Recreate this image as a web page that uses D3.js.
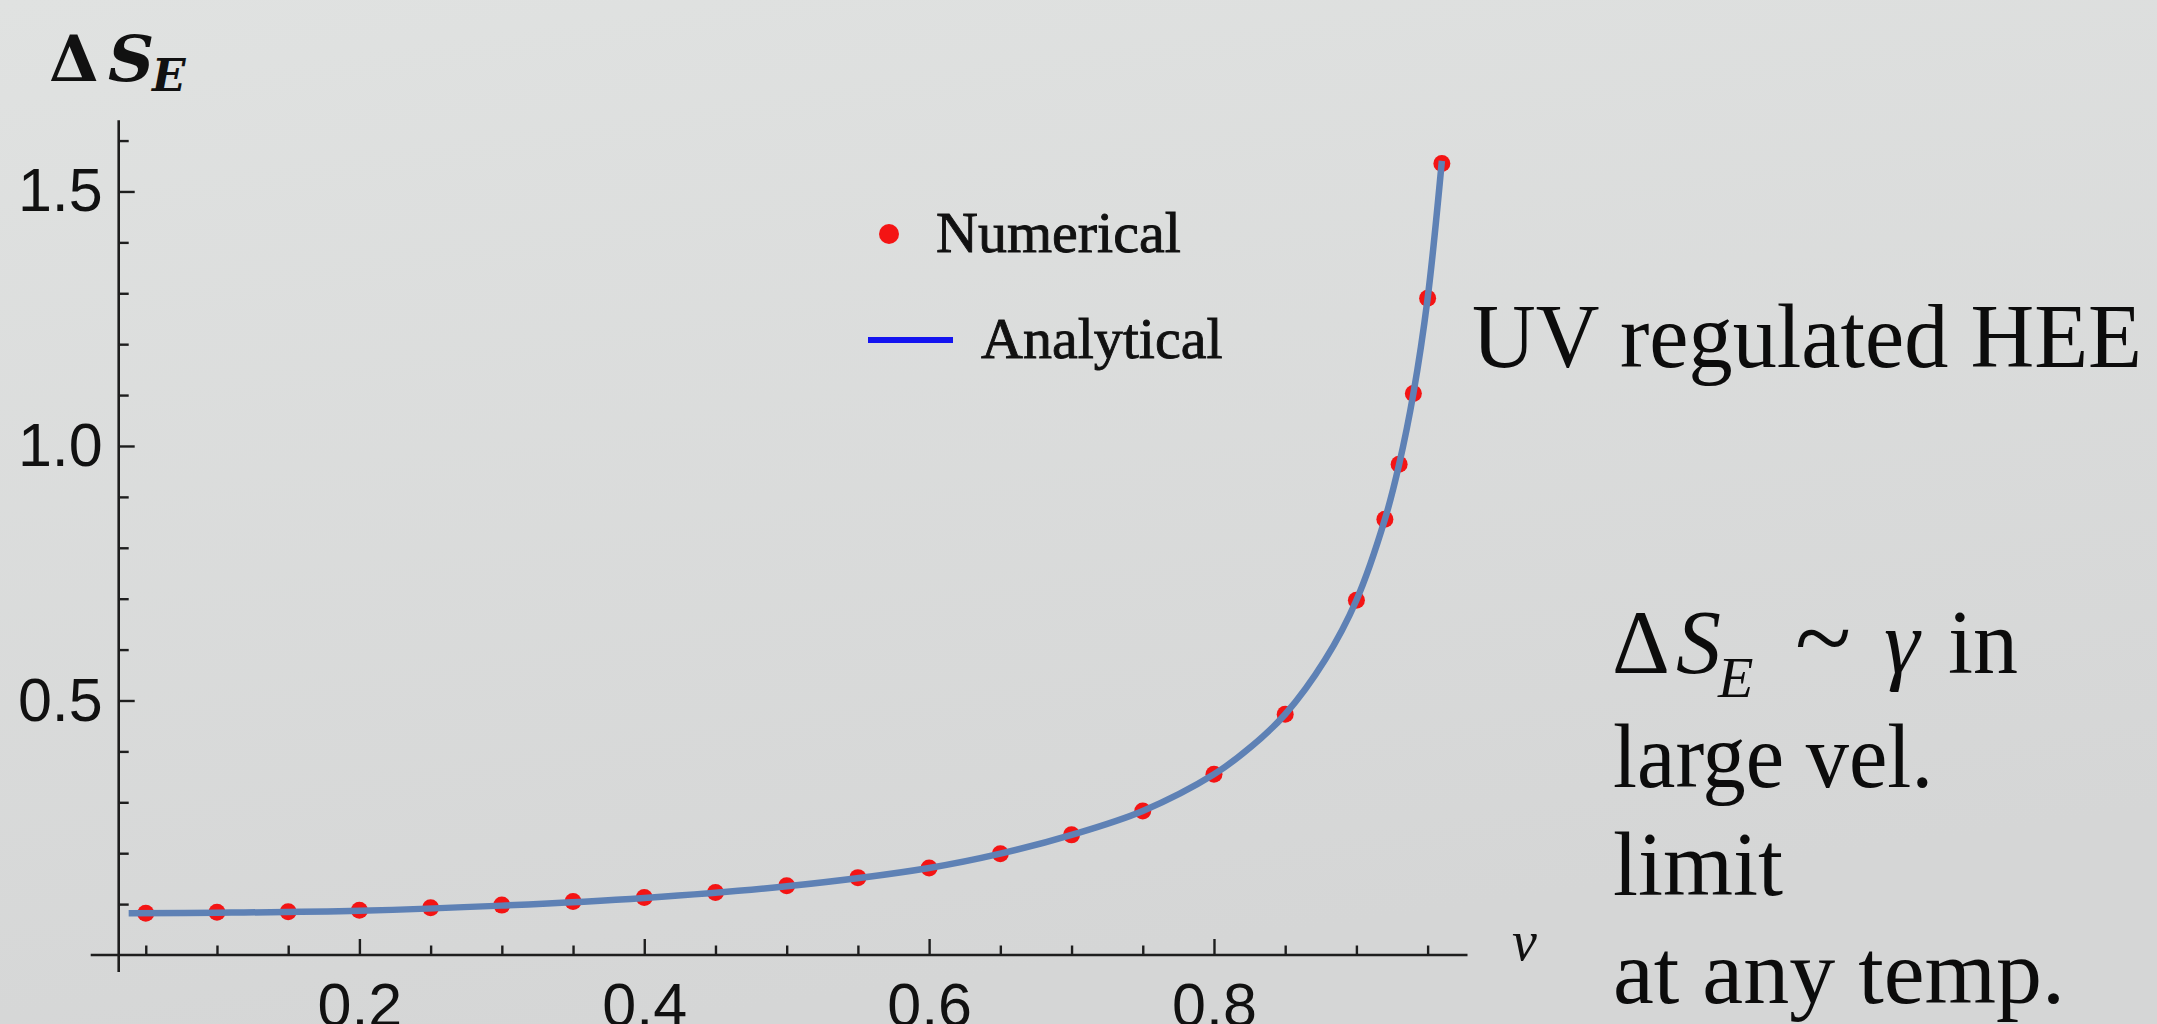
<!DOCTYPE html>
<html>
<head>
<meta charset="utf-8">
<script src="https://d3js.org/d3.v7.min.js"></script>
<style>
  html, body { margin: 0; padding: 0; background: #dcdede; }
  svg { display: block; }
</style>
</head>
<body>
<svg id="chart" width="2157" height="1024"></svg>
<script>
// numerical points (v, ΔS_E)
const numV = [0.05, 0.10, 0.15, 0.20, 0.25, 0.30, 0.35, 0.40, 0.45, 0.50, 0.55, 0.60,
	0.65, 0.70, 0.75, 0.80, 0.85, 0.90, 0.92, 0.93, 0.94, 0.95, 0.96];
const numS = [0.082, 0.084, 0.085, 0.088, 0.093, 0.098, 0.105, 0.113, 0.123, 0.136, 0.152, 0.171,
	0.199, 0.236, 0.283, 0.355, 0.473, 0.697, 0.856, 0.964, 1.103, 1.290, 1.555];

// analytical curve
const anaV = [0.038, 0.10, 0.20, 0.30, 0.40, 0.50, 0.60, 0.65, 0.70, 0.75, 0.80, 0.826,
	0.85, 0.878, 0.90, 0.92, 0.93, 0.94, 0.95, 0.96];
const anaS = [0.082, 0.083, 0.087, 0.097, 0.112, 0.135, 0.171, 0.199, 0.236, 0.283, 0.355, 0.409,
	0.473, 0.580, 0.697, 0.856, 0.964, 1.103, 1.290, 1.560];

const xMajor = [0.2, 0.4, 0.6, 0.8];
const xMinor = [0.05, 0.1, 0.15, 0.25, 0.3, 0.35, 0.45, 0.5, 0.55, 0.65, 0.7, 0.75, 0.85, 0.9, 0.95];
const yMajor = [0.5, 1.0, 1.5];
const yMinor = [0.1, 0.2, 0.3, 0.4, 0.6, 0.7, 0.8, 0.9, 1.1, 1.2, 1.3, 1.4, 1.6];

const svg = d3.select("#chart");
const width = +svg.attr("width");
const height = +svg.attr("height");

// background
const defs = svg.append("defs");
const grad = defs.append("linearGradient")
	.attr("id", "bg")
	.attr("x1", 0).attr("y1", 0).attr("x2", 0.3).attr("y2", 1);
grad.append("stop").attr("offset", "0%").attr("stop-color", "#e0e2e1");
grad.append("stop").attr("offset", "100%").attr("stop-color", "#d5d6d6");
svg.append("rect")
	.attr("width", width)
	.attr("height", height)
	.attr("fill", "url(#bg)");

const x = d3.scaleLinear().domain([0.031, 0.978]).range([118.7, 1467.5]);
const y = d3.scaleLinear().domain([0, 1.64]).range([955, 120.2]);

const axisColor = "#1e1e1e";

// axis lines (Mathematica style, overhanging the origin a bit)
svg.append("line")
	.attr("x1", x(0.031)).attr("x2", x(0.031))
	.attr("y1", y(1.64)).attr("y2", y(0) + 17)
	.attr("stroke", axisColor).attr("stroke-width", 2.6);
svg.append("line")
	.attr("x1", x(0.031) - 28).attr("x2", x(0.978))
	.attr("y1", y(0)).attr("y2", y(0))
	.attr("stroke", axisColor).attr("stroke-width", 2.6);

function styleAxis(g) {
	g.select(".domain").remove();
	g.selectAll(".tick line").attr("stroke", axisColor).attr("stroke-width", 2.4);
	g.selectAll(".tick text")
		.attr("fill", "#111")
		.style("font-family", "'Liberation Sans', Arial, sans-serif")
		.style("font-size", "61px");
}

// x axis
svg.append("g")
	.attr("transform", "translate(0," + y(0) + ")")
	.call(d3.axisBottom(x).tickValues(xMajor).tickSize(-16).tickPadding(28)
		.tickFormat(d3.format(".1f")))
	.call(styleAxis);
svg.append("g")
	.attr("transform", "translate(0," + y(0) + ")")
	.call(d3.axisBottom(x).tickValues(xMinor).tickSize(-9.5).tickFormat(""))
	.call(styleAxis);

// y axis
svg.append("g")
	.attr("transform", "translate(" + x(0.031) + ",0)")
	.call(d3.axisLeft(y).tickValues(yMajor).tickSize(-16).tickPadding(16)
		.tickFormat(d3.format(".1f")))
	.call(styleAxis);
svg.append("g")
	.attr("transform", "translate(" + x(0.031) + ",0)")
	.call(d3.axisLeft(y).tickValues(yMinor).tickSize(-10).tickFormat(""))
	.call(styleAxis);

// analytical curve
const line = d3.line()
	.x((d, i) => x(anaV[i]))
	.y((d, i) => y(anaS[i]))
	.curve(d3.curveCatmullRom.alpha(0.5));

// numerical points
svg.append("g")
	.selectAll("circle")
	.data(numV)
	.enter().append("circle")
	.attr("cx", (d) => x(d))
	.attr("cy", (d, i) => y(numS[i]))
	.attr("r", 8.5)
	.attr("fill", "#f41414");

svg.append("path")
	.datum(anaV)
	.attr("d", line)
	.attr("fill", "none")
	.attr("stroke", "#5e81b5")
	.attr("stroke-width", 6.5);

// axis labels
const yLab = svg.append("text")
	.attr("y", 81)
	.attr("fill", "#111")
	.style("font-family", "'DejaVu Serif', serif")
	.style("font-weight", "bold")
	.style("font-size", "64px");
yLab.append("tspan").attr("x", 49).text("Δ");
yLab.append("tspan").attr("x", 108).style("font-style", "italic").text("S");
yLab.append("tspan").attr("x", 152).style("font-style", "italic").style("font-size", "44px")
	.attr("dy", 10).text("E");

svg.append("text")
	.attr("x", 1512)
	.attr("y", 960)
	.attr("fill", "#111")
	.style("font-family", "'Liberation Serif', serif")
	.style("font-style", "italic")
	.style("font-size", "56px")
	.text("v");

// legend
const legend = svg.append("g")
	.attr("class", "legend")
	.style("font-family", "'Liberation Serif', serif")
	.style("font-size", "58px")
	.attr("fill", "#111")
	.attr("stroke", "#111")
	.attr("stroke-width", 0.9);
legend.append("circle")
	.attr("cx", 889).attr("cy", 234).attr("r", 10)
	.attr("stroke", "none")
	.attr("fill", "#f41414");
legend.append("text").attr("x", 936).attr("y", 252).text("Numerical");
legend.append("line")
	.attr("x1", 868).attr("x2", 953)
	.attr("y1", 340).attr("y2", 340)
	.attr("stroke", "#1414f0").attr("stroke-width", 6);
legend.append("text").attr("x", 981).attr("y", 358).text("Analytical");

// annotations
const note = svg.append("g")
	.style("font-family", "'Liberation Serif', 'Times New Roman', serif")
	.style("font-size", "90px")
	.attr("fill", "#0c0c0c");
note.append("text").attr("x", 1472).attr("y", 367)
	.attr("textLength", 670).attr("lengthAdjust", "spacingAndGlyphs")
	.text("UV regulated HEE");

const eq = note.append("text").attr("y", 673);
eq.append("tspan").attr("x", 1612).text("Δ");
eq.append("tspan").attr("x", 1676).style("font-style", "italic").text("S");
eq.append("tspan").attr("x", 1718).style("font-style", "italic").style("font-size", "58px")
	.attr("dy", 24).text("E");
eq.append("tspan").attr("x", 1795).attr("dy", -24).style("font-size", "104px").text("~");
eq.append("tspan").attr("x", 1884).style("font-style", "italic").text("γ");
eq.append("tspan").attr("x", 1948).text("in");

note.append("text").attr("x", 1613).attr("y", 787)
	.attr("textLength", 320).attr("lengthAdjust", "spacingAndGlyphs")
	.text("large vel.");
note.append("text").attr("x", 1613).attr("y", 895).text("limit");
note.append("text").attr("x", 1613).attr("y", 1003)
	.attr("textLength", 452).attr("lengthAdjust", "spacingAndGlyphs")
	.text("at any temp.");
</script>
</body>
</html>
